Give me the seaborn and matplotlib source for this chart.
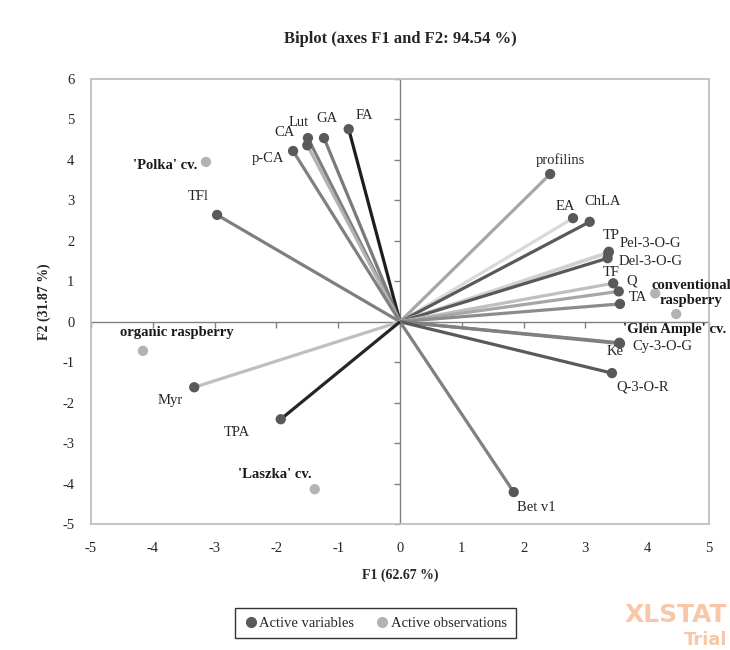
import matplotlib
matplotlib.use('Agg')
from matplotlib import pyplot as plt
from matplotlib.lines import Line2D
import pandas as pd
import seaborn as sns

# active variables (loadings on F1/F2)
var_names = ['FA', 'GA', 'Lut', 'CA', 'p-CA', 'TFl', 'profilins', 'EA', 'ChLA',
             'TP', 'Pel-3-O-G', 'Del-3-O-G', 'TF', 'Q', 'TA', 'Ke', 'Cy-3-O-G',
             'Q-3-O-R', 'Bet v1', 'Myr', 'TPA']
var_f1 = [-0.83, -1.23, -1.49, -1.50, -1.73, -2.96, 2.43, 2.80, 3.07,
          3.38, 3.37, 3.36, 3.45, 3.54, 3.56, 3.55, 3.56, 3.43, 1.84, -3.33, -1.93]
var_f2 = [4.76, 4.54, 4.54, 4.36, 4.22, 2.64, 3.65, 2.56, 2.47,
          1.73, 1.70, 1.57, 0.95, 0.75, 0.44, -0.52, -0.54, -1.27, -4.21, -1.62, -2.41]
var_colors = ['#1e1e1e', '#7a7a7a', '#7f7f7f', '#b3b3b3', '#808080', '#7f7f7f',
              '#a6a6a6', '#d9d9d9', '#595959', '#e0e0e0', '#d0d0d0', '#595959',
              '#bfbfbf', '#a6a6a6', '#8c8c8c', '#808080', '#808080', '#595959',
              '#808080', '#bfbfbf', '#262626']

# active observations
obs_names = ["'Polka' cv.", 'organic raspberry', "'Laszka' cv.",
             'conventional\nraspberry', "'Glen Ample' cv."]
obs_f1 = [-3.14, -4.16, -1.38, 4.13, 4.47]
obs_f2 = [3.95, -0.72, -4.14, 0.70, 0.19]

ticks_x = [-5, -4, -3, -2, -1, 0, 1, 2, 3, 4, 5]
ticks_y = [-5, -4, -3, -2, -1, 0, 1, 2, 3, 4, 5, 6]

# label offsets in pixels (dx, dy) relative to the point
var_offsets = [(16, 14), (3, 20), (-9, 16), (-23, 13), (-25, -8), (-19, 18),
               (10, 14), (-8, 12), (13, 20), (2, 16), (42, 9), (43, -3), (-2, 11),
               (13, 10), (18, 6), (-4, -9), (42, -3), (31, -14), (23, -15),
               (-24, -13), (-44, -13)]
obs_offsets = [(-41, -4), (34, 18), (-40, 15), (36, 0), (-2, -15)]

df_var = pd.DataFrame({'F1': var_f1, 'F2': var_f2, 'name': var_names})
df_obs = pd.DataFrame({'F1': obs_f1, 'F2': obs_f2, 'name': obs_names})

sns.set_style('white')
plt.rcParams['font.family'] = ['Liberation Serif', 'DejaVu Serif']

fig = plt.figure(figsize=(7.3, 6.5), dpi=100)
ax = fig.add_axes([0.1247, 0.1938, 0.8465, 0.6847])

# zero lines
ax.axhline(0, color='#808080', lw=1, zorder=1)
ax.axvline(0, color='#808080', lw=1, zorder=1)
# small tick marks on the zero lines
ax.plot([0] * len(ticks_y), ticks_y, linestyle='none', marker=0, markersize=4,
        color='#808080', clip_on=False, zorder=1)
ax.plot(ticks_x, [0] * len(ticks_x), linestyle='none', marker=3, markersize=4,
        color='#808080', clip_on=False, zorder=1)

# vectors from origin
for x, y, c in zip(var_f1, var_f2, var_colors):
    ax.plot([0, x], [0, y], color=c, lw=2.3, solid_capstyle='butt', zorder=2)

sns.scatterplot(data=df_var, x='F1', y='F2', color='#595959', s=55,
                edgecolor='none', ax=ax, zorder=3)
sns.scatterplot(data=df_obs, x='F1', y='F2', color='#b3b3b3', s=55,
                edgecolor='none', ax=ax, zorder=3)

for x, y, name, (dx, dy) in zip(var_f1, var_f2, var_names, var_offsets):
    ax.annotate(name, (x, y), xytext=(dx, dy), textcoords='offset pixels',
                ha='center', va='center', fontsize=10.5, color='#262626')
for x, y, name, (dx, dy) in zip(obs_f1, obs_f2, obs_names, obs_offsets):
    ax.annotate(name, (x, y), xytext=(dx, dy), textcoords='offset pixels',
                ha='center', va='center', fontsize=10.5, fontweight='bold',
                color='#1a1a1a', linespacing=1.2, annotation_clip=False)

ax.set_xlim(-5, 5)
ax.set_ylim(-5, 6)
ax.set_xticks(ticks_x)
ax.set_yticks(ticks_y)
ax.set_xticklabels([str(t) for t in ticks_x])
ax.set_yticklabels([str(t) for t in ticks_y])
ax.tick_params(axis='both', length=0, labelsize=10.5, colors='#262626')
ax.tick_params(axis='x', pad=13)
ax.tick_params(axis='y', pad=12)
for sp in ax.spines.values():
    sp.set_color('#bfbfbf')
    sp.set_linewidth(1.3)

ax.set_xlabel('F1 (62.67 %)', fontsize=10, fontweight='bold', labelpad=10)
ax.set_ylabel('F2 (31.87 %)', fontsize=10, fontweight='bold', labelpad=8)
ax.set_title('Biplot (axes F1 and F2: 94.54 %)', fontsize=12,
             fontweight='bold', pad=26)

handles = [Line2D([], [], linestyle='none', marker='o', color='#595959', markersize=7),
           Line2D([], [], linestyle='none', marker='o', color='#b3b3b3', markersize=7)]
leg = fig.legend(handles, ['Active variables', 'Active observations'],
                 loc='center', bbox_to_anchor=(375 / 730, 1 - 623 / 650), ncol=2,
                 fontsize=10.5, frameon=True, fancybox=False, handletextpad=0.1,
                 columnspacing=1.4, handlelength=1.0, borderpad=0.6)
leg.get_frame().set_edgecolor('black')
leg.get_frame().set_linewidth(1)

# watermark
fig.text(727 / 730, 1 - 615 / 650, 'XLSTAT', fontsize=18, fontweight='bold',
         color='#f9c6a8', family='DejaVu Sans', va='center', ha='right')
fig.text(727 / 730, 1 - 640 / 650, 'Trial', fontsize=13, fontweight='bold',
         color='#f9c6a8', family='DejaVu Sans', va='center', ha='right')

fig.savefig('out.png', dpi=100)
